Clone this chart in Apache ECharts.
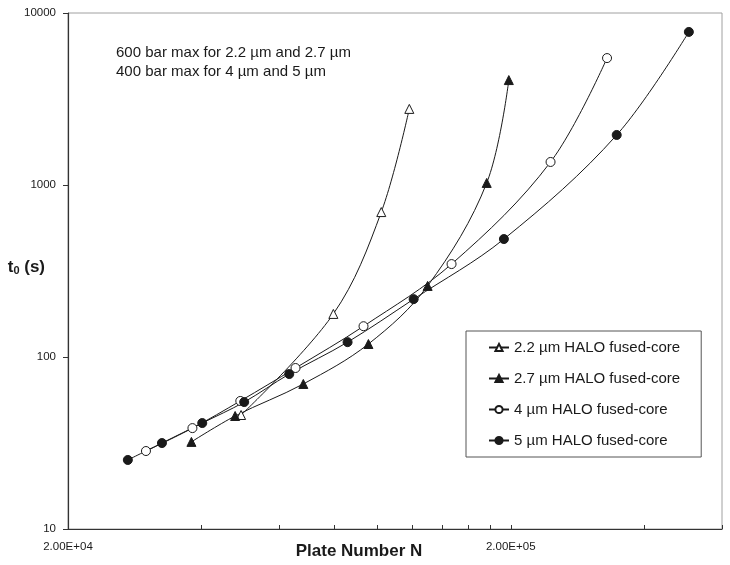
<!DOCTYPE html>
<html>
<head>
<meta charset="utf-8">
<script src="https://cdn.jsdelivr.net/npm/echarts@6/dist/echarts.min.js"></script>
<style>html,body{margin:0;padding:0;background:#fff;}#c{width:730px;height:565px;}</style>
</head>
<body>
<div id="c"></div>
<script>
// ---- data ----
const seriesNames = ['2.2 µm HALO fused-core', '2.7 µm HALO fused-core', '4 µm HALO fused-core', '5 µm HALO fused-core'];
const plates22 = [49200, 79500, 102000, 118000];
const time22   = [46, 178, 696, 2770];
const plates27 = [38000, 47700, 68000, 95400, 129800, 176500, 198000];
const time27   = [32.1, 45.4, 69.7, 119, 259, 1028, 4074];
const plates4  = [30000, 38200, 49000, 65300, 93000, 147000, 246000, 330000];
const time4    = [28.4, 38.6, 55.5, 86.3, 151, 347, 1361, 5470];
const plates5  = [27300, 32600, 40200, 50000, 63200, 85600, 120700, 193000, 347000, 505000];
const time5    = [25.2, 31.6, 41.3, 54.7, 79.6, 122, 217, 485, 1954, 7762];
const xTicks   = [20000, 40000, 60000, 80000, 100000, 120000, 140000, 160000, 180000, 200000, 400000, 600000];
const xLabels  = [20000, 200000];
const yTicks   = [10, 100, 1000, 10000];
const noteLines = ['600 bar max for 2.2 µm and 2.7 µm', '400 bar max for 4 µm and 5 µm'];

const FONT = '"Liberation Sans", Arial, sans-serif';
const INK = '#1a1a1a';

function zip(xs, ys) { return xs.map((x, i) => [x, ys[i]]); }
function sci(v) {
  const e = Math.floor(Math.log10(v) + 1e-9);
  const m = v / Math.pow(10, e);
  return m.toFixed(2) + 'E' + (e >= 0 ? '+' : '-') + String(Math.abs(e)).padStart(2, '0');
}
function mk(name, xs, ys, symbol, filled) {
  return {
    name: name, type: 'line', data: zip(xs, ys),
    smooth: 0.35, symbol: symbol, symbolSize: 9,
    lineStyle: { color: INK, width: 1 },
    itemStyle: { color: filled ? INK : '#fff', borderColor: INK, borderWidth: 1 },
    emphasis: { disabled: true }, z: 3
  };
}

const chart = echarts.init(document.getElementById('c'), null, { renderer: 'canvas' });
chart.setOption({
  animation: false,
  backgroundColor: '#fff',
  textStyle: { fontFamily: FONT },
  grid: { left: 68, top: 13, right: 8, bottom: 36, containLabel: false, outerBoundsMode: 'none',
          show: true, borderColor: '#a0a0a0', borderWidth: 1, backgroundColor: 'transparent' },
  xAxis: {
    type: 'log', logBase: 10, min: 20000, max: 600000,
    name: 'Plate Number N', nameLocation: 'middle', nameGap: 14, nameMoveOverlap: false,
    nameTextStyle: { fontFamily: FONT, fontSize: 17, fontWeight: 'bold', color: INK, padding: [0, 72, 0, 0] },
    axisLine: { show: true, lineStyle: { color: '#333', width: 1.2 } },
    axisTick: { show: true, inside: true, length: 4, customValues: xTicks, lineStyle: { color: '#333' } },
    axisLabel: { customValues: xLabels, formatter: v => sci(v), fontFamily: FONT, fontSize: 11.5, color: INK, margin: 12 },
    splitLine: { show: false }, minorTick: { show: false }
  },
  yAxis: {
    type: 'log', logBase: 10, min: 10, max: 10000,
    name: '{t|t}{s|0}{t| (s)}', nameLocation: 'middle', nameRotate: 0, nameGap: 23, nameMoveOverlap: false,
    nameTextStyle: {
      padding: [0, 0, 8, 0],
      rich: {
        t: { fontFamily: FONT, fontSize: 17, fontWeight: 'bold', color: INK },
        s: { fontFamily: FONT, fontSize: 11, fontWeight: 'bold', color: INK, padding: [8, 0, 0, 0] }
      }
    },
    axisLine: { show: true, lineStyle: { color: '#333', width: 1.2 } },
    axisTick: { show: true, inside: false, length: 5, customValues: yTicks, lineStyle: { color: '#333' } },
    axisLabel: { customValues: yTicks, formatter: v => String(Math.round(v)), fontFamily: FONT, fontSize: 11.5, color: INK, margin: 12 },
    splitLine: { show: false }, minorTick: { show: false }
  },
  legend: {
    orient: 'vertical', left: 466, top: 331,
    padding: [9, 21, 9, 22], itemGap: 16, itemWidth: 20, itemHeight: 9,
    borderColor: '#555', borderWidth: 1, backgroundColor: '#fff',
    textStyle: { fontFamily: FONT, fontSize: 15, color: INK },
    data: seriesNames
  },
  graphic: [{
    type: 'text', left: 116, top: 43,
    style: { text: noteLines.join('\n'), font: '15px ' + FONT, fill: INK, lineHeight: 19 }
  }],
  series: [
    mk(seriesNames[0], plates22, time22, 'triangle', false),
    mk(seriesNames[1], plates27, time27, 'triangle', true),
    mk(seriesNames[2], plates4, time4, 'circle', false),
    mk(seriesNames[3], plates5, time5, 'circle', true)
  ]
});
</script>
</body>
</html>
